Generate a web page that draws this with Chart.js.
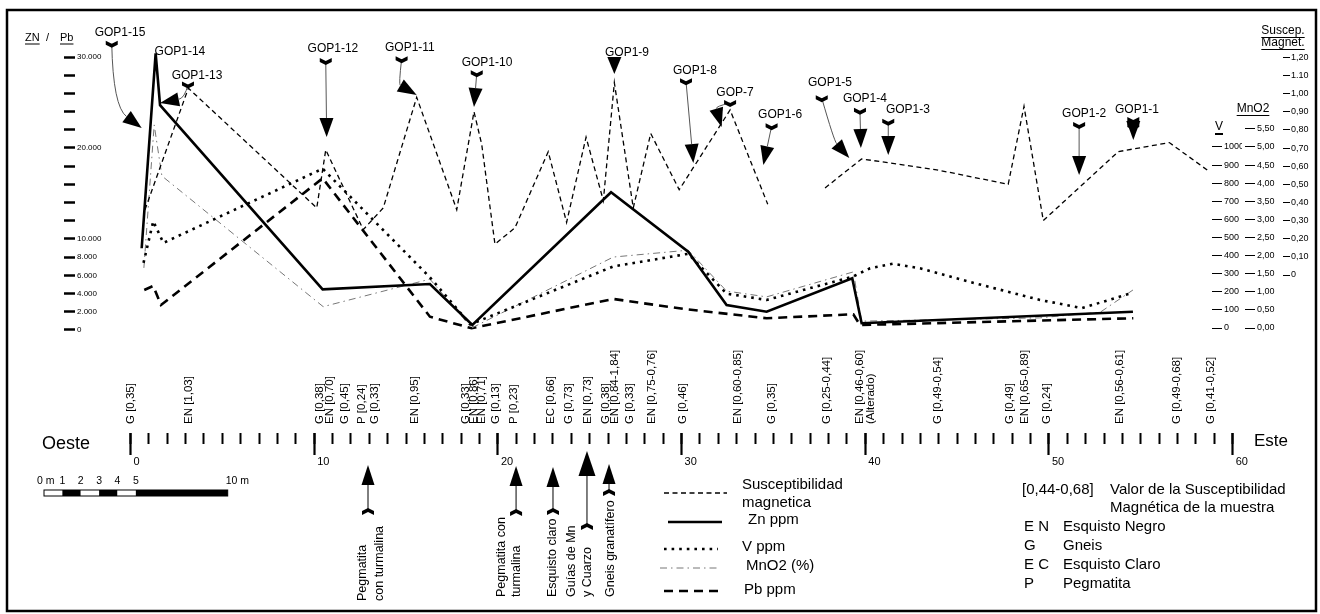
<!DOCTYPE html>
<html>
<head>
<meta charset="utf-8">
<script src="https://cdn.jsdelivr.net/npm/chart.js@4.4.1/dist/chart.umd.min.js"></script>
<style>
  html, body { margin: 0; padding: 0; background: #fff; }
  #wrap { width: 1320px; height: 614px; }
</style>
</head>
<body>
<div id="wrap"><canvas id="perfil"></canvas></div>
<script>
// posiciones en metros a lo largo del perfil (Oeste -> Este) y valores de cada serie
const znPos = [0.61, 1.37, 1.61, 10.46, 16.30, 18.61, 26.16, 30.36, 32.45, 34.63, 39.29, 39.80, 54.57];
const znPpm = [8980, 30400, 24700, 4470, 5050, 550, 15130, 8600, 2750, 2010, 5680, 740, 2010];

const pbPos = [0.75, 1.24, 1.66, 10.46, 16.30, 18.57, 26.28, 30.13, 34.63, 39.35, 39.71, 54.59];
const pbPpm = [4400, 4840, 2750, 16670, 1460, 190, 3410, 2310, 1290, 1730, 550, 1290];

const vPos = [0.71, 1.24, 1.79, 10.46, 16.30, 18.50, 26.28, 30.36, 32.45, 34.63, 39.35, 40.26, 41.51, 42.98, 45.86, 49.51, 51.80, 54.57];
const vPpm = [360, 590, 470, 880, 280, 20, 340, 410, 190, 155, 285, 330, 355, 330, 250, 155, 110, 195];

const mnPos = [0.73, 1.29, 1.71, 10.49, 16.30, 18.57, 26.28, 30.36, 32.45, 34.63, 39.35, 39.80, 49.50, 52.80, 54.57];
const mnPct = [1.66, 5.61, 4.20, 0.59, 1.35, 0.0, 1.96, 2.15, 1.02, 0.86, 1.55, 0.19, 0.28, 0.44, 1.05];

const susPos = [0.79, 3.15, 10.14, 10.63, 12.67, 13.76, 15.58, 17.76, 18.70, 19.12, 19.84, 20.93, 22.74, 23.74, 24.80, 25.74,
  26.34, 27.37, 28.32, 29.87, 32.64, 34.69, 36.30, 37.81, 39.80, 43.89, 47.78, 48.64, 49.69, 53.77, 56.55, 58.73];
const susVal = [0.36, 1.03, 0.37, 0.69, 0.25, 0.37, 0.98, 0.36, 0.90, 0.72, 0.17, 0.26, 0.68, 0.29, 0.76, 0.41,
  1.06, 0.37, 0.78, 0.47, 0.91, 0.39, null, 0.48, 0.64, 0.58, 0.50, 0.93, 0.30, 0.68, 0.73, 0.57];

// marcas de los ejes
const rulerMinor = Array.from({ length: 61 }, (_, i) => i);
const rulerMajor = [0, 10, 20, 30, 40, 50, 60];
const znTicks = [0, 2000, 4000, 6000, 8000, 10000, 12000, 14000, 16000, 18000, 20000, 22000, 24000, 26000, 28000, 30000];
const znLabelled = [0, 2000, 4000, 6000, 8000, 10000, 20000, 30000];
const vTicks = [0, 100, 200, 300, 400, 500, 600, 700, 800, 900, 1000];
const mnTicks = [0, 0.5, 1, 1.5, 2, 2.5, 3, 3.5, 4, 4.5, 5, 5.5];
const susTicks = [0, 0.1, 0.2, 0.3, 0.4, 0.5, 0.6, 0.7, 0.8, 0.9, 1.0, 1.1, 1.2];
const susTickLabels = ['0', '0,10', '0,20', '0,30', '0,40', '0,50', '0,60', '0,70', '0,80', '0,90', '1,00', '1.10', '1,20'];

// muestras (litologia y susceptibilidad medida)
const muestraPos = [0.03, 3.18, 10.32, 10.86, 11.68, 12.60, 13.31, 15.49, 18.26, 18.70, 19.13, 19.89, 20.87, 22.89, 23.87, 24.90,
  25.88, 26.37, 27.19, 28.39, 30.08, 33.07, 34.92, 37.91, 39.71, 43.96, 47.88, 48.70, 49.89, 53.86, 56.97, 58.82];
const muestraTxt = ['G [0,35]', 'EN [1,03]', 'G [0,38]', 'EN [0,70]', 'G [0,45]', 'P [0,24]', 'G [0,33]', 'EN [0,95]', 'G [0,33]',
  'EN [0,86]', 'EN [0,71]', 'G [0,13]', 'P [0,23]', 'EC [0,66]', 'G [0,73]', 'EN [0,73]', 'G [0,38]', 'EN [0,84-1,84]', 'G [0,33]',
  'EN [0,75-0,76]', 'G [0,46]', 'EN [0,60-0,85]', 'G [0,35]', 'G [0,25-0,44]', 'EN [0,46-0,60]|(Alterado)', 'G [0,49-0,54]', 'G [0,49]',
  'EN [0,65-0,89]', 'G [0,24]', 'EN [0,56-0,61]', 'G [0,49-0,68]', 'G [0,41-0,52]'];

// etiquetas GOP: texto, posicion (m, susc.), cola y punta de flecha
const gopMarks = [
  { t: 'GOP1-15', at: [-0.57, 1.334], tail: [-1.02, 1.275], tip: [0.61, 0.810], via: [-0.95, 0.93] },
  { t: 'GOP1-14', at: [2.69, 1.229] },
  { t: 'GOP1-13', at: [3.62, 1.097], tail: [3.13, 1.050], tip: [1.61, 0.948], via: [2.95, 0.975] },
  { t: 'GOP1-12', at: [11.02, 1.246], tail: [10.63, 1.180], tip: [10.68, 0.761] },
  { t: 'GOP1-11', at: [15.21, 1.253], tail: [14.76, 1.190], tip: [15.58, 0.992], via: [14.60, 1.05] },
  { t: 'GOP1-10', at: [19.41, 1.169], tail: [18.85, 1.112], tip: [18.70, 0.926] },
  { t: 'GOP1-9', at: [27.03, 1.224], tip: [26.34, 1.108] },
  { t: 'GOP1-8', at: [30.73, 1.126], tail: [30.24, 1.068], tip: [30.64, 0.617] },
  { t: 'GOP-7', at: [32.91, 1.007], tail: [32.64, 0.948], tip: [32.18, 0.816], via: [31.85, 0.93] },
  { t: 'GOP1-6', at: [35.36, 0.882], tail: [34.90, 0.820], tip: [34.45, 0.606] },
  { t: 'GOP1-5', at: [38.08, 1.062], tail: [37.63, 0.975], tip: [39.13, 0.645], via: [38.30, 0.74] },
  { t: 'GOP1-4', at: [39.98, 0.972], tail: [39.71, 0.905], tip: [39.76, 0.700] },
  { t: 'GOP1-3', at: [42.32, 0.910], tail: [41.25, 0.845], tip: [41.25, 0.662] },
  { t: 'GOP1-2', at: [51.91, 0.891], tail: [51.64, 0.827], tip: [51.64, 0.551] },
  { t: 'GOP1-1', at: [54.79, 0.913], tail: [54.59, 0.855], tip: [54.59, 0.744], twin: true }
];

// notas bajo la regla
const notas = [
  { pos: 12.93, tip: 465, tail: 512, base: 601, lines: ['Pegmatita', 'con turmalina'], dx: [-5, 12] },
  { pos: 20.99, tip: 466, tail: 513, base: 597, lines: ['Pegmatita con', 'turmalina'], dx: [-15, 0] },
  { pos: 23.00, tip: 467, tail: 512, base: 597, lines: ['Esquisto claro'], dx: [0] },
  { pos: 24.85, tip: 451, tail: 527, base: 597, lines: ['Guías de Mn', 'y Cuarzo'], dx: [-15, 1], big: true },
  { pos: 26.05, tip: 464, tail: 493, base: 597, lines: ['Gneis granatífero'], dx: [2] }
];

const FONT = '"Liberation Sans", Arial, sans-serif';
Chart.defaults.font.family = FONT;
Chart.defaults.color = '#000';

// limites de escala (cada eje comparte la misma altura de area)
const X_MIN = -3.02, X_MAX = 60.18;
const Z_MIN = -11319, Z_MAX = 30000;
const V_MIN = -580, V_MAX = 1497;
const MN_MIN = -2.90, MN_MAX = 7.486;
const S_MIN = -0.871, S_MAX = 1.2018;

const rightAxisLeft = { yV: 1212, yMn: 1245, ySus: 1283 };

const pts = (xs, ys) => xs.map((x, i) => ({ x, y: ys[i] }));
const miles = v => String(v).replace(/\B(?=(\d{3})+(?!\d))/g, '.');

const shiftRight = {
  id: 'shiftRight',
  afterLayout(chart) {
    Object.entries(rightAxisLeft).forEach(([id, left]) => {
      const s = chart.scales[id];
      s.left = left; s.right = left + 30; s.width = 30;
    });
  }
};

function txt(ctx, s, x, y, size, align, under) {
  ctx.font = size + 'px ' + FONT;
  ctx.textAlign = align || 'left';
  ctx.textBaseline = 'middle';
  ctx.fillStyle = '#000';
  ctx.fillText(s, x, y);
  if (under) {
    const w = ctx.measureText(s).width;
    const x0 = align === 'center' ? x - w / 2 : align === 'right' ? x - w : x;
    ctx.fillRect(x0, y + size * 0.5, w, 1);
  }
}

function vtxt(ctx, s, x, yBase, size) {
  ctx.save();
  ctx.translate(x, yBase);
  ctx.rotate(-Math.PI / 2);
  ctx.font = size + 'px ' + FONT;
  ctx.textAlign = 'left';
  ctx.textBaseline = 'middle';
  ctx.fillStyle = '#000';
  ctx.fillText(s, 0, 0);
  ctx.restore();
}

function head(ctx, tx, ty, ux, uy, len, half) {
  const bx = tx - ux * len, by = ty - uy * len;
  ctx.beginPath();
  ctx.moveTo(tx, ty);
  ctx.lineTo(bx - uy * half, by + ux * half);
  ctx.lineTo(bx + uy * half, by - ux * half);
  ctx.closePath();
  ctx.fillStyle = '#000';
  ctx.fill();
  return [bx, by];
}

function chevron(ctx, x, y, d) {
  ctx.beginPath();
  ctx.moveTo(x - 6, y - 3 * d); ctx.lineTo(x, y); ctx.lineTo(x + 6, y - 3 * d);
  ctx.lineTo(x + 6, y + d); ctx.lineTo(x, y + 4 * d); ctx.lineTo(x - 6, y + d);
  ctx.closePath();
  ctx.fillStyle = '#000';
  ctx.fill();
}

const decor = {
  id: 'decor',
  afterDraw(chart) {
    const ctx = chart.ctx;
    const sx = chart.scales.x, ss = chart.scales.ySus;
    const X = v => sx.getPixelForValue(v);
    const S = v => ss.getPixelForValue(v);
    ctx.save();

    // marco
    ctx.strokeStyle = '#000';
    ctx.lineWidth = 2.5;
    ctx.strokeRect(7, 10, 1309, 601);

    // titulos de ejes
    txt(ctx, 'ZN', 25, 38, 11, 'left', true);
    txt(ctx, '/', 46, 38, 11, 'left');
    txt(ctx, 'Pb', 60, 38, 11, 'left', true);
    txt(ctx, 'Suscep.', 1283, 31, 12, 'center', true);
    txt(ctx, 'Magnet.', 1283, 43, 12, 'center', true);
    txt(ctx, 'MnO2', 1253, 109, 12, 'center', true);
    txt(ctx, 'V', 1219, 127, 12, 'center');
    ctx.fillRect(1215, 133, 8, 2);

    // etiquetas GOP y flechas
    gopMarks.forEach(g => {
      txt(ctx, g.t, X(g.at[0]), S(g.at[1]), 12, 'center');
      if (!g.tip) return;
      const tx = X(g.tip[0]), ty = S(g.tip[1]);
      if (!g.tail) { head(ctx, tx, ty, 0, 1, 17, 7); return; }
      const ax = X(g.tail[0]), ay = S(g.tail[1]);
      const c = g.via ? [X(g.via[0]), S(g.via[1])] : [ax, ay];
      let ux = tx - c[0], uy = ty - c[1];
      const n = Math.hypot(ux, uy); ux /= n; uy /= n;
      const [bx, by] = head(ctx, tx, ty, ux, uy, 19, 7);
      ctx.beginPath();
      ctx.moveTo(ax, ay);
      if (g.via) ctx.quadraticCurveTo(c[0], c[1], bx, by); else ctx.lineTo(bx, by);
      ctx.strokeStyle = '#555';
      ctx.lineWidth = 1;
      ctx.stroke();
      chevron(ctx, ax, ay, 1);
      if (g.twin) chevron(ctx, ax, ay + 6, 1);
    });

    // muestras
    muestraPos.forEach((p, i) => {
      const parts = muestraTxt[i].split('|');
      parts.forEach((s, k) => vtxt(ctx, s, X(p) + k * 11, 424, 11.5));
    });

    // regla
    txt(ctx, 'Oeste', 42, 444, 18, 'left');
    txt(ctx, 'Este', 1254, 441, 17, 'left');

    // escala grafica
    const u = X(1) - X(0);
    const bx0 = 44, by0 = 490;
    [[0, 1, '#fff'], [1, 2, '#000'], [2, 3, '#fff'], [3, 4, '#000'], [4, 5, '#fff'], [5, 10, '#000']].forEach(([a, b, c]) => {
      ctx.fillStyle = c;
      ctx.fillRect(bx0 + a * u, by0, (b - a) * u, 6);
    });
    ctx.strokeStyle = '#000'; ctx.lineWidth = 1;
    ctx.strokeRect(bx0, by0, 10 * u, 6);
    txt(ctx, '0 m', bx0 - 7, 481, 10.5, 'left');
    [1, 2, 3, 4, 5].forEach(m => txt(ctx, String(m), bx0 + m * u, 481, 10.5, 'center'));
    txt(ctx, '10 m', bx0 + 10 * u - 2, 481, 10.5, 'left');

    // notas con flecha
    notas.forEach(nt => {
      const x = X(nt.pos);
      const [hx, hy] = head(ctx, x, nt.tip, 0, -1, nt.big ? 25 : 20, nt.big ? 8.5 : 6.5);
      ctx.beginPath(); ctx.moveTo(x, hy); ctx.lineTo(x, nt.tail);
      ctx.strokeStyle = '#000'; ctx.lineWidth = 1; ctx.stroke();
      chevron(ctx, x, nt.tail, -1);
      nt.lines.forEach((s, k) => vtxt(ctx, s, x + nt.dx[k], nt.base, 12.5));
    });

    // leyenda de series
    const ley = [
      { ds: 0, y: 493, x0: 664, x1: 727, text: [['Susceptibilidad', 742, 485], ['magnetica', 742, 503]] },
      { ds: 1, y: 522, x0: 668, x1: 722, text: [['Zn ppm', 748, 520]] },
      { ds: 2, y: 549, x0: 664, x1: 718, text: [['V ppm', 742, 547]] },
      { ds: 3, y: 568, x0: 660, x1: 718, text: [['MnO2 (%)', 746, 566]] },
      { ds: 4, y: 591, x0: 664, x1: 720, text: [['Pb ppm', 744, 590]] }
    ];
    ley.forEach(l => {
      const d = chart.data.datasets[l.ds];
      ctx.save();
      ctx.strokeStyle = d.borderColor;
      ctx.lineWidth = d.borderWidth;
      ctx.setLineDash(d.borderDash || []);
      ctx.beginPath(); ctx.moveTo(l.x0, l.y); ctx.lineTo(l.x1, l.y); ctx.stroke();
      ctx.restore();
      l.text.forEach(([s, x, y]) => txt(ctx, s, x, y, 15, 'left'));
    });

    // leyenda de litologia
    txt(ctx, '[0,44-0,68]', 1022, 490, 15, 'left');
    txt(ctx, 'Valor de la Susceptibilidad', 1110, 490, 15, 'left');
    txt(ctx, 'Magnética de la muestra', 1110, 508, 15, 'left');
    [['E N', 'Esquisto Negro', 527], ['G', 'Gneis', 546], ['E C', 'Esquisto Claro', 565], ['P', 'Pegmatita', 584]].forEach(([a, b, y]) => {
      txt(ctx, a, 1024, y, 15, 'left');
      txt(ctx, b, 1063, y, 15, 'left');
    });

    ctx.restore();
  }
};

const hiddenGrid = (len, w) => ({ drawOnChartArea: false, drawTicks: true, tickLength: len, tickWidth: w, tickColor: '#000' });

new Chart(document.getElementById('perfil'), {
  type: 'line',
  data: {
    datasets: [
      { label: 'Susceptibilidad magnetica', data: pts(susPos, susVal), yAxisID: 'ySus', xAxisID: 'x',
        borderColor: '#000', borderWidth: 1.3, borderDash: [5, 3.5], spanGaps: false },
      { label: 'Zn ppm', data: pts(znPos, znPpm), yAxisID: 'yZn', xAxisID: 'x',
        borderColor: '#000', borderWidth: 2.6 },
      { label: 'V ppm', data: pts(vPos, vPpm), yAxisID: 'yV', xAxisID: 'x',
        borderColor: '#000', borderWidth: 2.6, borderDash: [2.6, 5] },
      { label: 'MnO2 (%)', data: pts(mnPos, mnPct), yAxisID: 'yMn', xAxisID: 'x',
        borderColor: '#777', borderWidth: 1, borderDash: [7, 4, 1.5, 4] },
      { label: 'Pb ppm', data: pts(pbPos, pbPpm), yAxisID: 'yZn', xAxisID: 'x',
        borderColor: '#000', borderWidth: 2.6, borderDash: [9, 6] }
    ]
  },
  options: {
    responsive: true,
    maintainAspectRatio: false,
    animation: false,
    devicePixelRatio: 1,
    events: [],
    layout: { autoPadding: false, padding: { left: 10, right: 84, top: 57, bottom: 161 } },
    elements: { point: { radius: 0 }, line: { tension: 0, fill: false } },
    datasets: { line: { clip: false } },
    plugins: { legend: { display: false }, tooltip: { enabled: false } },
    scales: {
      x: {
        type: 'linear', position: 'bottom', min: X_MIN, max: X_MAX,
        afterBuildTicks: s => { s.ticks = rulerMinor.map(v => ({ value: v })); },
        afterFit: s => { s.height = 20; },
        ticks: { display: false, autoSkip: false },
        grid: hiddenGrid(11, 2),
        border: { display: false }
      },
      xMajor: {
        type: 'linear', axis: 'x', position: { yZn: Z_MIN }, min: X_MIN, max: X_MAX,
        afterBuildTicks: s => { s.ticks = rulerMajor.map(v => ({ value: v })); },
        ticks: { autoSkip: false, maxRotation: 0, minRotation: 0, align: 'start', labelOffset: 3, padding: 0,
          font: { size: 11 }, callback: v => String(v) },
        grid: hiddenGrid(22, 2.2),
        border: { display: false }
      },
      yZn: {
        type: 'linear', position: 'left', min: Z_MIN, max: Z_MAX,
        afterBuildTicks: s => { s.ticks = znTicks.map(v => ({ value: v })); },
        afterFit: s => { s.width = 65; },
        ticks: { mirror: true, padding: 2, font: { size: 8 },
          callback: v => znLabelled.includes(v) ? miles(v) : '' },
        grid: hiddenGrid(11, 2.5),
        border: { display: false }
      },
      yV: {
        type: 'linear', position: 'right', min: V_MIN, max: V_MAX,
        afterBuildTicks: s => { s.ticks = vTicks.map(v => ({ value: v })); },
        afterFit: s => { s.width = 0; },
        ticks: { padding: 2, font: { size: 9 }, callback: v => String(v) },
        grid: hiddenGrid(10, 1),
        border: { display: false }
      },
      yMn: {
        type: 'linear', position: 'right', min: MN_MIN, max: MN_MAX,
        afterBuildTicks: s => { s.ticks = mnTicks.map(v => ({ value: v })); },
        afterFit: s => { s.width = 0; },
        ticks: { padding: 2, font: { size: 9 }, callback: v => v.toFixed(2).replace('.', ',') },
        grid: hiddenGrid(10, 1),
        border: { display: false }
      },
      ySus: {
        type: 'linear', position: 'right', min: S_MIN, max: S_MAX,
        afterBuildTicks: s => { s.ticks = susTicks.map(v => ({ value: v })); },
        afterFit: s => { s.width = 0; },
        ticks: { padding: 1, font: { size: 9 }, callback: (v, i) => susTickLabels[i] },
        grid: hiddenGrid(7, 1),
        border: { display: false }
      }
    }
  },
  plugins: [shiftRight, decor]
});
</script>
</body>
</html>
